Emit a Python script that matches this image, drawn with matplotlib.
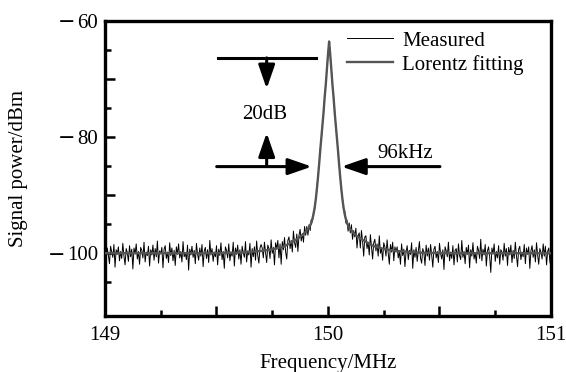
# Spectrum of the beat note with Lorentz fit (20 dB width 96 kHz)

import numpy as np
import matplotlib
matplotlib.use('Agg')
import matplotlib.pyplot as plt
from matplotlib.ticker import MultipleLocator, FixedLocator

plt.rcParams['font.family'] = ['Liberation Serif', 'DejaVu Serif']
plt.rcParams['font.size'] = 15

# measured trace, 401 points from 149 to 151 MHz
f_start = 149.0
f_step = 0.005
measured_db = [
    -99.6, -101.1, -99.1, -100.3, -101.8, -98.8, -99.8, -100.7, -98.5, -102.4, -99.4, -100.2, -98.9, -101.3, -99.7, -100.9, -98.3, -100.5, -102.0, -99.2,
    -99.9, -101.4, -98.7, -100.6, -99.3, -102.7, -99.1, -100.1, -98.4, -101.0, -99.7, -101.9, -99.0, -99.5, -100.8, -98.1, -101.5, -99.8, -100.4, -98.8,
    -102.2, -99.4, -100.3, -98.6, -101.2, -99.2, -100.6, -97.9, -101.7, -99.6, -100.1, -99.0, -102.5, -99.3, -98.7, -100.9, -99.8, -101.6, -98.2, -100.4,
    -99.1, -101.3, -99.5, -102.1, -98.9, -100.2, -98.4, -100.8, -99.7, -101.5, -98.0, -100.6, -99.9, -101.1, -98.6, -102.9, -99.3, -100.3, -98.8, -100.7,
    -99.5, -101.8, -98.3, -100.1, -101.2, -99.1, -100.5, -98.5, -102.3, -99.6, -99.0, -100.9, -99.4, -101.6, -97.8, -100.3, -99.2, -101.4, -99.8, -100.6,
    -98.7, -102.0, -99.3, -100.4, -98.2, -101.1, -99.7, -102.6, -98.9, -99.5, -100.8, -98.4, -101.3, -99.8, -100.5, -98.1, -102.2, -99.1, -100.2, -98.6,
    -101.0, -99.4, -101.9, -98.8, -99.9, -100.7, -98.0, -101.5, -99.6, -100.3, -98.3, -102.4, -99.2, -100.6, -98.9, -101.2, -97.9, -100.4, -101.7, -99.1,
    -98.5,
    # left wing of the peak
    -99.1, -100.8, -98.1, -99.9, -101.6, -98.6, -99.2, -100.9, -97.7, -100.0,
    -99.0, -102.0, -98.2, -99.3, -97.8, -100.8, -98.4, -101.9, -98.0, -99.4,
    -97.3, -99.8, -101.0, -97.8, -97.2, -99.2, -97.8, -99.8, -96.2, -98.2,
    -99.0, -96.7, -99.7, -96.9, -95.9, -97.9, -96.6, -98.1, -95.4, -96.9,
    -95.4, -96.9, -95.1, -96.1, -94.2, -94.6, -92.9, -92.5, -90.6, -89.2,
    -86.7, -84.9, -82.2, -80.5, -77.9, -76.0, -73.0, -71.1, -68.3, -65.8,
    -63.5,
    # right wing of the peak
    -65.9, -68.2, -71.2, -73.1, -75.5, -78.2, -80.0, -82.7, -84.7, -86.8,
    -89.2, -90.5, -92.6, -92.7, -94.8, -94.3, -96.2, -94.8, -96.5, -95.1,
    -97.6, -96.1, -97.2, -95.7, -99.1, -97.0, -96.5, -99.1, -96.1, -97.9,
    -100.5, -97.2, -97.0, -99.2, -98.1, -100.3, -96.8, -99.0, -101.0, -98.2,
    -97.6, -99.6, -98.4, -100.5, -97.0, -100.0, -99.2, -101.2, -98.2, -98.9,
    -100.5, -97.7, -100.0, -101.9, -98.5, -99.8, -98.1, -101.3, -98.9, -99.8,
    # right floor
    -98.9, -100.8, -99.7, -101.9, -98.4, -100.4, -99.3, -102.3, -99.8, -98.7, -101.1, -99.5, -100.2, -98.2, -102.6, -99.4, -100.7, -99.0, -101.4, -99.6,
    -98.0, -100.9, -101.7, -99.2, -99.9, -102.1, -98.6, -100.5, -99.1, -101.2, -98.5, -100.3, -102.4, -99.3, -98.8, -100.8, -99.7, -101.6, -98.3, -100.1,
    -101.0, -99.4, -102.8, -98.9, -99.6, -100.6, -98.1, -101.3, -99.8, -100.9, -98.7, -102.0, -99.5, -99.2, -101.5, -98.4, -100.4, -101.1, -97.8, -100.7,
    -99.7, -101.8, -99.0, -100.2, -98.6, -102.5, -99.4, -100.5, -98.2, -101.0, -99.9, -101.7, -98.8, -99.5, -100.9, -97.6, -101.3, -99.3, -100.3, -98.5,
    -102.2, -99.6, -98.9, -100.6, -103.3, -99.1, -100.1, -98.4, -101.4, -99.7, -100.8, -98.7, -101.9, -99.4, -99.8, -101.2, -98.3, -100.5, -99.2, -102.1,
    -99.0, -100.3, -98.6, -101.6, -99.5, -100.9, -98.1, -100.4, -102.3, -99.3, -98.8, -101.1, -99.8, -100.6, -98.5, -101.8, -99.1, -100.2, -98.9, -102.6,
    -99.6, -98.7, -100.7, -99.4, -101.5, -98.2, -100.3, -101.9, -99.2, -99.8, -101.0, -98.4, -100.5, -98.8, -102.0, -99.7, -99.1, -101.4, -102.3,
]

# Lorentz fit, one side of the line (offset from centre in MHz, level in dBm)
fit_center = 150.005
fit_offset = [0, 0.005, 0.01, 0.015, 0.02, 0.025, 0.03, 0.035, 0.04, 0.045, 0.05, 0.055,
              0.06, 0.065, 0.07, 0.075, 0.08, 0.09, 0.10, 0.12, 0.15, 0.20, 0.25, 0.30,
              0.40, 0.55, 1.01]
fit_level = [-63.6, -65.8, -68.4, -71.0, -73.2, -75.8, -78.0, -80.2, -82.4, -84.8, -87.0, -89.0,
             -90.8, -92.2, -93.3, -94.1, -94.8, -95.6, -96.1, -96.9, -97.7, -98.8, -99.3, -99.6,
             -99.9, -100.0, -100.0]

# labelled y ticks
ytick_vals = [-100, -80, -60]

freq = f_start + f_step * np.arange(len(measured_db))
fit_offset = np.array(fit_offset)
fit_level = np.array(fit_level)
fit_f = np.concatenate([fit_center - fit_offset[::-1], fit_center + fit_offset[1:]])
fit_db = np.concatenate([fit_level[::-1], fit_level[1:]])

fig = plt.figure(figsize=(5.66, 3.72), dpi=100)
ax = fig.add_axes([0.1855, 0.1505, 0.788, 0.7939])

ax.plot(freq, measured_db, color='k', lw=0.7, label='Measured', zorder=3)
ax.plot(fit_f, fit_db, color='#555555', lw=1.7, label='Lorentz fitting', zorder=4)

ax.set_xlim(149, 151)
ax.set_ylim(-110.8, -60)

ax.set_xticks([149, 149.5, 150, 150.5, 151])
ax.set_xticklabels(['149', '', '150', '', '151'])
ax.xaxis.set_minor_locator(MultipleLocator(0.25))
ax.set_yticks([-100, -90, -80, -70, -60])
ax.set_yticklabels([str(abs(v)) if v in ytick_vals else '' for v in [-100, -90, -80, -70, -60]])
ax.yaxis.set_minor_locator(FixedLocator([-105, -95, -85, -75, -65]))

ax.tick_params(which='major', direction='in', length=7, width=1.8, labelsize=15)
ax.tick_params(which='minor', direction='in', length=4, width=1.8)
ax.tick_params(axis='x', which='major', pad=7)
ax.tick_params(axis='y', which='major', pad=5)
for s in ax.spines.values():
    s.set_linewidth(2.4)

# long minus signs in front of the y tick labels (as in the original)
for v in ytick_vals:
    ndig = len(str(abs(v)))
    ax.annotate('\u2212', xy=(0, v), xycoords=('axes fraction', 'data'),
                xytext=(-(5 + 7.5 * ndig + 1.2), 0), textcoords='offset points',
                ha='right', va='center_baseline', fontsize=15, family='DejaVu Serif')

ax.set_xlabel('Frequency/MHz', fontsize=15)
ax.set_ylabel('Signal power/dBm', fontsize=15)
ax.xaxis.set_label_coords(0.5, -0.13)
ax.yaxis.set_label_coords(-0.172, 0.5)

ax.legend(loc='upper left', bbox_to_anchor=(0.542, 0.965), frameon=False,
          fontsize=15, handlelength=2.2, handletextpad=0.45, labelspacing=0.2,
          borderpad=0, borderaxespad=0)

# 20 dB / 96 kHz markers
arrow = dict(arrowstyle='-|>,head_length=0.72,head_width=0.25', lw=2.2,
             color='k', shrinkA=0, shrinkB=0, mutation_scale=20)
ax.plot([149.508, 149.946], [-66.4, -66.4], color='k', lw=2.2)
ax.annotate('', xy=(149.725, -71.7), xytext=(149.725, -66.4), arrowprops=arrow)
ax.annotate('', xy=(149.725, -79.3), xytext=(149.725, -85.1), arrowprops=arrow)
ax.annotate('', xy=(149.927, -85.1), xytext=(149.501, -85.1), arrowprops=arrow)
ax.annotate('', xy=(150.061, -85.1), xytext=(150.502, -85.1), arrowprops=arrow)
ax.text(149.717, -76.1, '20dB', ha='center', va='center', fontsize=15)
ax.text(150.345, -82.8, '96kHz', ha='center', va='center', fontsize=15)

fig.savefig('out.png', dpi=100)
